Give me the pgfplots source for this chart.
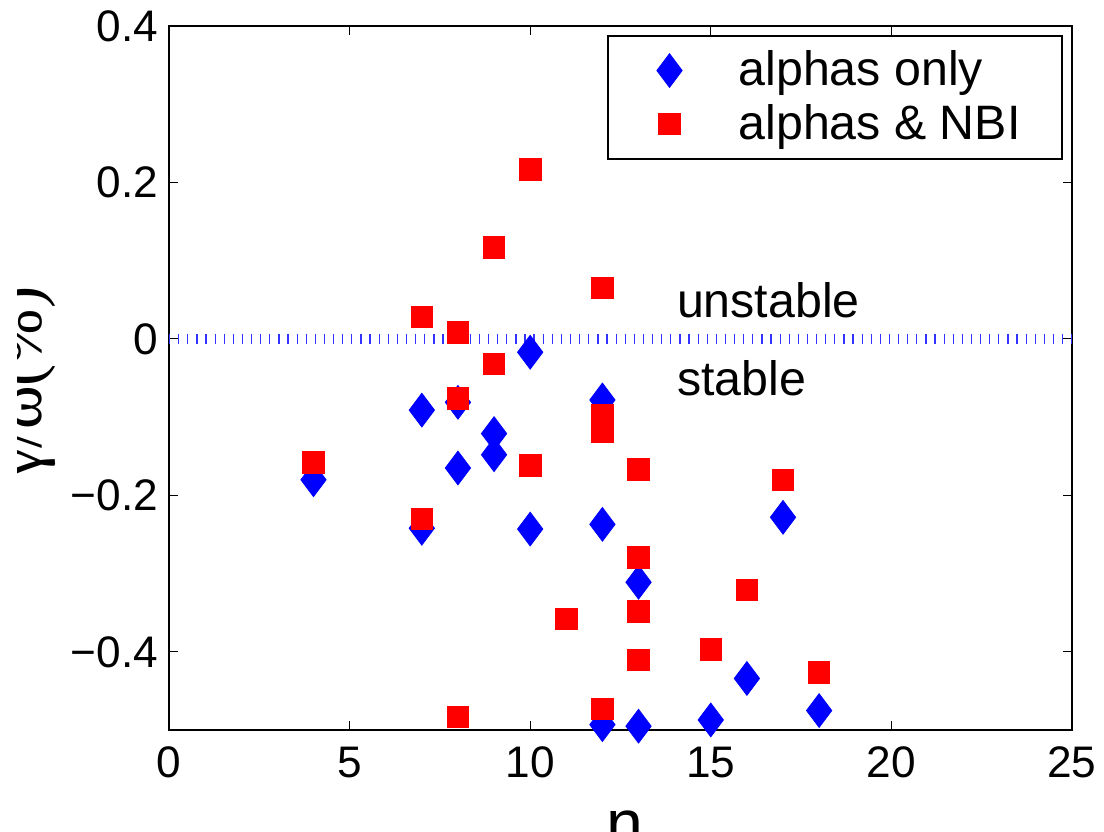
\documentclass[border=0pt]{standalone}
\usepackage{fontspec}
\setmainfont{Liberation Sans}
\newfontfamily\seriffont{Liberation Serif}
\usepackage{pgfplots}
\pgfplotsset{compat=1.18}
\begin{document}
\begin{tikzpicture}
\begin{scope}
\clip (-54.7pt,-40pt) rectangle (345pt,270pt);
\begin{axis}[
  at={(0,0)}, anchor=south west,
  scale only axis,
  width=327pt, height=255pt,
  xmin=0, xmax=25, ymin=-0.5, ymax=0.4,
  xtick={0,5,10,15,20,25},
  ytick={-0.4,-0.2,0,0.2,0.4},
  yticklabels={−0.4,−0.2,0,0.2,0.4},
  tick align=inside,
  major tick length=3.3pt,
  tick style={black, line width=0.4pt},
  axis line style={line width=0.7pt},
  /pgf/number format/assume math mode=true,
  ticklabel style={font=\fontsize{16}{18}\selectfont},
  yticklabel style={xshift=-0.5pt},
  xticklabel style={yshift=-2.5pt},
  xlabel={n},
  xlabel style={at={(rel axis cs:0.505,0)}, anchor=north, inner sep=0pt, yshift=-29pt, font=\fontsize{24}{26}\selectfont},
  legend style={at={(1,1)}, anchor=north east, xshift=-3.3pt, yshift=-3.3pt,
    draw=black, line width=0.6pt, inner xsep=0pt, inner ysep=2.85pt,
    font=\fontsize{17.5}{19}\selectfont,
    nodes={inner xsep=2pt, inner ysep=2.6pt}, row sep=0pt},
  legend cell align=left,
  legend image code/.code={\path[draw=none] (-22.3pt,0pt) (23pt,0pt); \draw[#1,line width=0.3pt] plot coordinates {(0pt,0pt)};},
]
\addplot[only marks, mark=diamond*, mark size=6.1pt, color=blue, mark options={fill=blue, draw=blue, line width=0.3pt}] coordinates {
(4,-0.180)
(7,-0.091) (7,-0.242)
(8,-0.081) (8,-0.165)
(9,-0.121) (9,-0.148)
(10,-0.017) (10,-0.243)
(12,-0.078) (12,-0.237) (12,-0.493)
(13,-0.311) (13,-0.495)
(15,-0.487)
(16,-0.434)
(17,-0.228)
(18,-0.475)
};
\addlegendentry{alphas only}
\addplot[only marks, mark=square*, mark size=3.9pt, color=red, mark options={fill=red, draw=red, line width=0.3pt}] coordinates {
(4,-0.158)
(7,0.028) (7,-0.230)
(8,0.008) (8,-0.076) (8,-0.483)
(9,0.117) (9,-0.032)
(10,0.217) (10,-0.162)
(11,-0.358)
(12,0.065) (12,-0.098) (12,-0.118) (12,-0.473)
(13,-0.167) (13,-0.279) (13,-0.348) (13,-0.410)
(15,-0.397)
(16,-0.321)
(17,-0.180)
(18,-0.426)
};
\addlegendentry{alphas \& NBI\hspace*{13pt}}
\addplot[blue!80, line width=3.6pt, dash pattern=on 0.45pt off 2.85pt, forget plot] coordinates {(0,0) (25,0)};
\node[anchor=base west, inner sep=0pt, font=\fontsize{17.5}{19}\selectfont] at (axis cs:14.05,0.028) {unstable};
\node[anchor=base west, inner sep=0pt, font=\fontsize{17.5}{19}\selectfont] at (axis cs:14.05,-0.0727) {stable};
\end{axis}
\node[rotate=90, anchor=base, inner sep=0pt, font=\fontsize{24}{26}\selectfont] at (-46pt,126pt) {\seriffont γ/ω(\%)};
\end{scope}
\pgfresetboundingbox
\path[use as bounding box] (-61.2pt,-36.6pt) rectangle (338.6pt,264.4pt);
\end{tikzpicture}
\end{document}
